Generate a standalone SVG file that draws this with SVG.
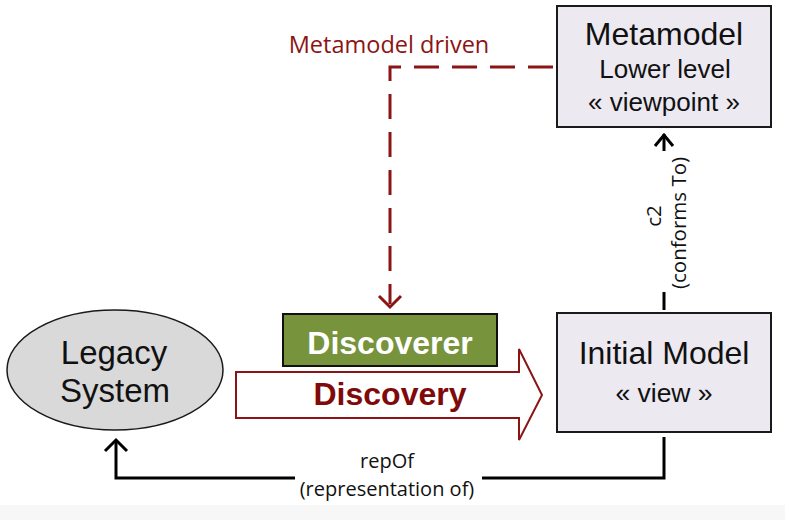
<svg xmlns="http://www.w3.org/2000/svg" width="785" height="520" viewBox="0 0 785 520">
  <defs>
    <style>
      .box { fill: #ece9f1; stroke: #1a1a1a; stroke-width: 2; }
      .sans { font-family: "Liberation Sans", Arial, sans-serif; fill: #111; text-anchor: middle; }
      .cal { font-family: "Open Sans", "Noto Sans", sans-serif; fill: #111; text-anchor: middle; }
      .conn { fill: none; stroke: #000; stroke-width: 3; }
    </style>
  </defs>
  <rect x="0" y="0" width="785" height="520" fill="#ffffff"/>
  <rect x="0" y="505" width="785" height="15" fill="#f7f7f7"/>

  <g id="connectors">
    <!-- metamodel driven dashed -->
    <path d="M 553 67 H 390 V 304" fill="none" stroke="#8b1515" stroke-width="3" stroke-dasharray="25 13"/>
    <polyline points="379,296 390,307 401,296" fill="none" stroke="#8b1515" stroke-width="3"/>
    <text x="389" y="53" font-family="'Open Sans', 'Noto Sans', sans-serif" font-size="23.5" fill="#8b1515" text-anchor="middle">Metamodel driven</text>

    <!-- c2 conforms to -->
    <path class="conn" d="M 664 292 V 310"/>
    <path class="conn" d="M 664 134 V 151"/>
    <polyline class="conn" points="655,146 664,135 673,146"/>
    <text class="cal" font-size="20.5" transform="translate(661,216) rotate(-90)">c2</text>
    <text class="cal" font-size="20.5" transform="translate(686,223) rotate(-90)">(conforms To)</text>

    <!-- repOf -->
    <path class="conn" d="M 664 437 V 478 H 482"/>
    <path class="conn" d="M 295 478 H 116 V 442"/>
    <polyline class="conn" points="105,451 116,440 127,451"/>
    <text class="cal" x="387" y="468" font-size="20">repOf</text>
    <text class="cal" x="387" y="496" font-size="20">(representation of)</text>
  </g>

  <g id="legacy-system">
    <ellipse cx="115" cy="370" rx="108" ry="60" fill="#d9d9d9" stroke="#1a1a1a" stroke-width="1.5"/>
    <text class="sans" x="114" y="364" font-size="33">Legacy</text>
    <text class="sans" x="115" y="402" font-size="33">System</text>
  </g>

  <g id="discoverer">
    <rect x="283" y="314" width="214" height="52" fill="#77933c" stroke="#111" stroke-width="2"/>
    <text x="390" y="354" font-family="'Liberation Sans', Arial, sans-serif" font-weight="bold" font-size="32" fill="#ffffff" text-anchor="middle">Discoverer</text>
  </g>

  <g id="discovery">
    <polygon points="236,372 519,372 519,349 542,395 519,440 519,418 236,418" fill="#ffffff" stroke="#8b1515" stroke-width="2"/>
    <text x="390" y="405" font-family="'Liberation Sans', Arial, sans-serif" font-weight="bold" font-size="32" fill="#7f0a0a" text-anchor="middle">Discovery</text>
  </g>

  <g id="metamodel">
    <rect class="box" x="557" y="6" width="214" height="121"/>
    <text class="sans" x="664" y="45" font-size="32">Metamodel</text>
    <text class="sans" x="665" y="78" font-size="26">Lower level</text>
    <text class="sans" x="664" y="111" font-size="26">« viewpoint »</text>
  </g>

  <g id="initial-model">
    <rect class="box" x="557" y="313" width="214" height="119"/>
    <text class="sans" x="664" y="364" font-size="32">Initial Model</text>
    <text class="sans" x="664" y="402" font-size="26.5">« view »</text>
  </g>
</svg>
